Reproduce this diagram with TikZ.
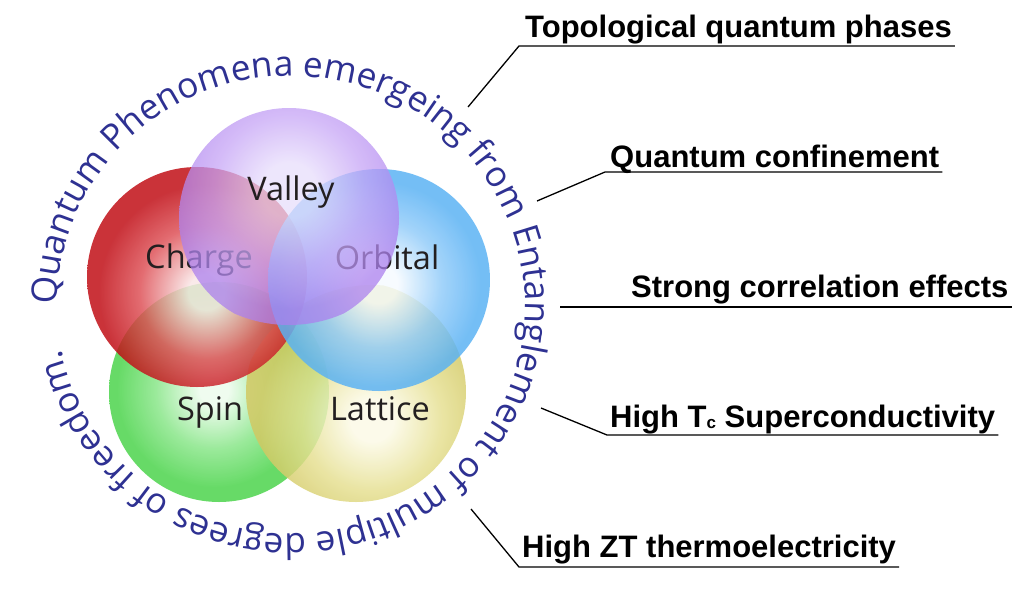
\documentclass[tikz,border=0pt]{standalone}
\usepackage{fontspec}
\setmainfont{Open Sans}
\newfontfamily\rlabfont{Liberation Sans}
\usetikzlibrary{decorations.text}

\definecolor{curvecol}{RGB}{46,49,146}
\definecolor{venntext}{RGB}{35,31,32}

\definecolor{redI}{RGB}{250,230,230}
\definecolor{redM}{RGB}{222,80,86}
\definecolor{redO}{RGB}{192,12,20}
\definecolor{bluI}{RGB}{246,251,255}
\definecolor{bluM}{RGB}{146,204,250}
\definecolor{bluO}{RGB}{90,178,244}
\definecolor{greI}{RGB}{236,252,236}
\definecolor{greM}{RGB}{136,230,136}
\definecolor{greO}{RGB}{74,212,74}
\definecolor{yelI}{RGB}{252,250,230}
\definecolor{yelM}{RGB}{230,224,146}
\definecolor{yelO}{RGB}{210,200,98}
\definecolor{purI}{RGB}{232,222,252}
\definecolor{purM}{RGB}{198,164,246}
\definecolor{purO}{RGB}{172,128,238}

% the middle 50bp of a shading fills the path: 25bp = shading radius
\pgfdeclareradialshading{redsh}{\pgfpointorigin}{color(0bp)=(redI); color(3.5bp)=(redI); color(13bp)=(redM); color(21bp)=(redO); color(50bp)=(redO)}
\pgfdeclareradialshading{blush}{\pgfpointorigin}{color(0bp)=(bluI); color(4bp)=(bluI); color(13bp)=(bluM); color(21bp)=(bluO); color(50bp)=(bluO)}
\pgfdeclareradialshading{gresh}{\pgfpointorigin}{color(0bp)=(greI); color(3bp)=(greI); color(12bp)=(greM); color(20bp)=(greO); color(50bp)=(greO)}
\pgfdeclareradialshading{yelsh}{\pgfpointorigin}{color(0bp)=(yelI); color(4bp)=(yelI); color(13bp)=(yelM); color(21bp)=(yelO); color(50bp)=(yelO)}
\pgfdeclareradialshading{pursh}{\pgfpointorigin}{color(0bp)=(purI); color(5bp)=(purI); color(14bp)=(purM); color(22bp)=(purO); color(50bp)=(purO)}

% #1 circle centre, #2 radius, #3 shading, #4 highlight centre, #5 shading radius, #6 opacity
\newcommand\venncirc[6]{%
  \begin{scope}
    \clip #1 circle[radius=#2];
    \shade[shading=#3, opacity=#6] #4 circle[radius=#5];
  \end{scope}}

\tikzset{
  vlab/.style={font=\fontsize{32.5}{32.5}\selectfont, text=venntext, inner sep=0pt, anchor=base},
  rlab/.style={font=\rlabfont\bfseries\fontsize{31}{31}\selectfont, inner sep=0pt, anchor=base west},
  lead/.style={line width=1.3pt, black},
}

\begin{document}
\begin{tikzpicture}[x=1pt,y=1pt]
\useasboundingbox (0,0) rectangle (1024,-592);
\fill[white] (0,0) rectangle (1024,-592);

% circles
\venncirc{(219,-392)}{110}{gresh}{(214,-390)}{122}{0.84}
\venncirc{(356,-392)}{110}{yelsh}{(372,-420)}{135}{0.84}
\venncirc{(197,-277)}{110}{redsh}{(206,-292)}{128}{0.84}
\venncirc{(379,-280)}{111}{blush}{(378,-284)}{122}{0.84}
\node[vlab] (charge) at (199,-268) {Charge};
\node[vlab] (orbital) at (387,-269) {Orbital};
\venncirc{(289,-218)}{110}{pursh}{(289,-190)}{135}{0.74}
\node[vlab] (valley) at (291,-200) {Valley};
\node[vlab] (spin) at (210,-420) {Spin};
\node[vlab] (lattice) at (380,-420) {Lattice};

% curved text
\path[decorate, decoration={text along path, text color=curvecol,
  text={|\fontsize{35.3}{35.3}\selectfont|Quantum Phenomena emergeing from Entanglement of multiple degrees of freedom.},
  text align=left}]
  (291,-305) ++(180:234 and 229) arc[start angle=180, end angle=-178, x radius=234, y radius=229];

% right labels
\node[rlab] (p1) at (525,-37) {Topological quantum phases};
\node[rlab] (p2) at (610,-167) {Quantum confinement};
\node[rlab] (p3) at (631,-297) {Strong correlation effects};
\node[rlab] (p4) at (610,-427) {High T\raisebox{-1pt}{\fontsize{17}{17}\selectfont c} Superconductivity};
\node[rlab] (p5) at (522,-557) {High ZT thermoelectricity};

\coordinate (a1) at (468,-107); \coordinate (b1) at (519,-46);
\coordinate (a2) at (537,-201); \coordinate (b2) at (605,-172);
\coordinate (b3) at (560,-307);
\coordinate (a4) at (541,-408); \coordinate (b4) at (607,-435);
\coordinate (a5) at (471,-509); \coordinate (b5) at (519,-567);

\draw[lead] (a1) -- (b1) -- ([xshift=3pt]b1 -| p1.east);
\draw[lead] (a2) -- (b2) -- ([xshift=3pt]b2 -| p2.east);
\draw[lead] (b3) -- ([xshift=3pt]b3 -| p3.east);
\draw[lead] (a4) -- (b4) -- ([xshift=3pt]b4 -| p4.east);
\draw[lead] (a5) -- (b5) -- ([xshift=3pt]b5 -| p5.east);
\end{tikzpicture}
\end{document}
